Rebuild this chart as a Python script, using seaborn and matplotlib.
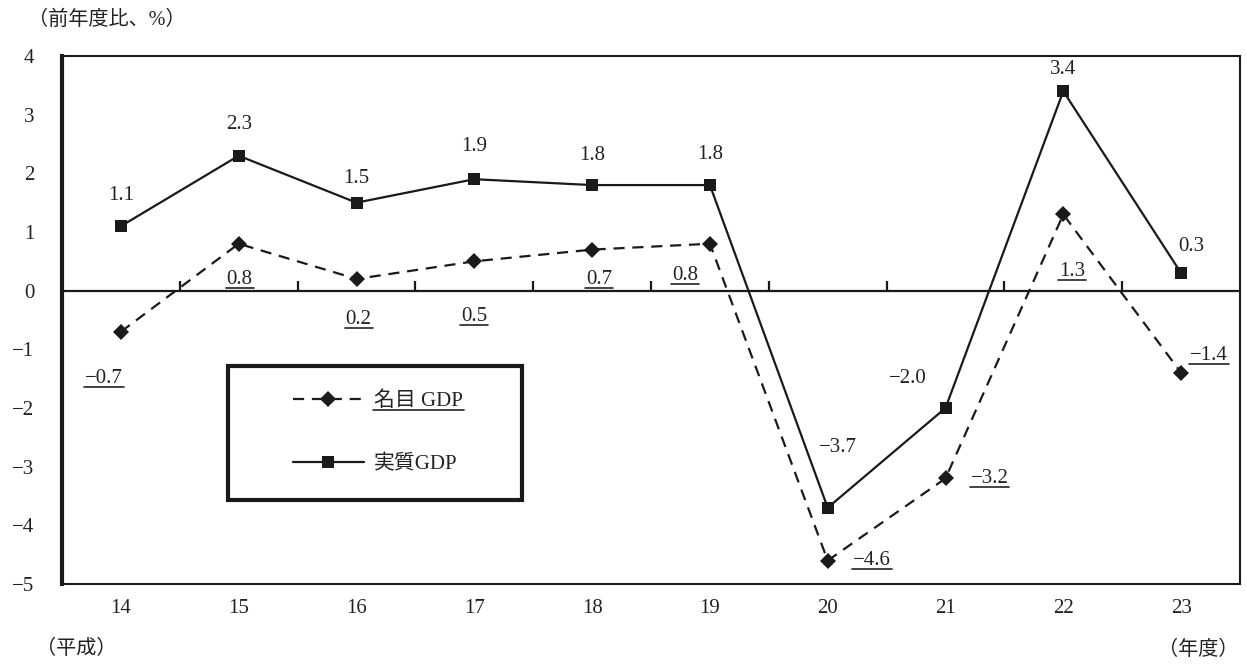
import matplotlib
matplotlib.use("Agg")
import matplotlib.pyplot as plt
from matplotlib.lines import Line2D
from matplotlib.patches import Rectangle
import seaborn as sns
import pandas as pd

# 年度（平成）
years = [14, 15, 16, 17, 18, 19, 20, 21, 22, 23]
# 前年度比（%）
nominal = [-0.7, 0.8, 0.2, 0.5, 0.7, 0.8, -4.6, -3.2, 1.3, -1.4]
real = [1.1, 2.3, 1.5, 1.9, 1.8, 1.8, -3.7, -2.0, 3.4, 0.3]
series_names = ["名目 GDP", "実質GDP"]
y_ticks = [4, 3, 2, 1, 0, -1, -2, -3, -4, -5]

# label offsets in pixels (dx, dy) relative to each marker
nominal_offsets = [(-17, -47), (1, -36), (2, -41), (0, -55), (7, -30),
                   (-25, -32), (44, 0), (44, 0), (9, -57), (28, 17)]
real_offsets = [(0, 31), (0, 31), (0, 24), (0, 33), (0, 30),
                (0, 31), (10, 60), (-38, 29), (0, 22), (10, 27)]

sns.set_theme(style="white")
FONT = ["Liberation Serif", "Noto Sans CJK JP"]
plt.rcParams["font.family"] = FONT
plt.rcParams["axes.unicode_minus"] = True

INK = "#1a1a1a"
TXT = "#222222"
FS = 15

df = pd.DataFrame({
    "year": years * 2,
    "value": nominal + real,
    "series": [series_names[0]] * len(years) + [series_names[1]] * len(years),
})

fig = plt.figure(figsize=(12.47, 6.66), dpi=100)
ax = fig.add_axes([62 / 1247, 1 - 584 / 666, 1178 / 1247, 528 / 666])

sns.lineplot(
    data=df, x="year", y="value", hue="series", style="series",
    palette={series_names[0]: INK, series_names[1]: INK},
    markers={series_names[0]: "D", series_names[1]: "s"},
    dashes={series_names[0]: (5, 3.5), series_names[1]: ""},
    linewidth=1.6, markersize=9, markeredgewidth=0,
    legend=False, ax=ax, zorder=3,
)
for ln in ax.get_lines():
    if ln.get_marker() == "D":
        ln.set_markersize(8.5)

ax.set_xlim(years[0] - 0.5, years[-1] + 0.5)
ax.set_ylim(min(y_ticks), max(y_ticks))
ax.set_xlabel("")
ax.set_ylabel("")

# zero line with upward separators between years
ax.axhline(0, color=INK, lw=1.6, zorder=2)
ax.vlines([y + 0.5 for y in years[:-1]], 0, 0.17, color=INK, lw=1.6, zorder=2)

ax.set_xticks(years)
ax.set_xticklabels([str(y) for y in years], fontsize=FS)
ax.set_yticks(y_ticks)
ax.set_yticklabels([f"\u2212{abs(v)}" if v < 0 else str(v) for v in y_ticks], fontsize=FS)
ax.tick_params(axis="x", length=0, pad=11, colors=TXT)
ax.tick_params(axis="y", direction="in", length=8, width=2.5, pad=20, colors=INK,
               labelcolor=TXT)

for name, sp in ax.spines.items():
    sp.set_color(INK)
    sp.set_linewidth(1.5)
ax.spines["left"].set_linewidth(3)
ax.grid(False)


def fmt(v):
    return f"\u2212{abs(v):.1f}" if v < 0 else f"{v:.1f}"


underlined = []
for x, v, (dx, dy) in zip(years, real, real_offsets):
    ax.annotate(fmt(v), (x, v), xytext=(dx, dy), textcoords="offset pixels",
                ha="center", va="center", fontsize=FS, color=TXT)
for x, v, (dx, dy) in zip(years, nominal, nominal_offsets):
    t = ax.annotate(fmt(v), (x, v), xytext=(dx, dy), textcoords="offset pixels",
                    ha="center", va="center", fontsize=FS, color=TXT)
    underlined.append(t)

# legend box
ax.add_patch(Rectangle((166 / 1178, 84 / 528), 294 / 1178, 134 / 528,
                       transform=ax.transAxes, fill=True, facecolor="white",
                       edgecolor=INK, lw=3, zorder=4))
handles = [
    Line2D([], [], color=INK, lw=1.6, dashes=(5, 3.5), marker="D",
           markersize=8.5, markeredgewidth=0),
    Line2D([], [], color=INK, lw=1.6, marker="s", markersize=9,
           markeredgewidth=0),
]
leg = ax.legend(handles, series_names, loc="center",
                bbox_to_anchor=(316 / 1178, 151 / 528), frameon=False,
                handlelength=3.4, handletextpad=0.5,
                labelspacing=2.1, prop={"family": FONT, "size": FS})
leg.set_zorder(5)
for t in leg.get_texts():
    t.set_color(TXT)
underlined.append(leg.get_texts()[0])

# figure annotations
fig.text(28 / 1247, 1 - 20 / 666, "（前年度比、%）", fontsize=14.5, va="center", ha="left",
         color=TXT)
fig.text(36 / 1247, 1 - 649 / 666, "（平成）", fontsize=14.5, va="center", ha="left",
         color=TXT)
fig.text(1239 / 1247, 1 - 650 / 666, "（年度）", fontsize=14.5, va="center", ha="right",
         color=TXT)

# underline selected labels
fig.canvas.draw()
renderer = fig.canvas.get_renderer()
inv = fig.transFigure.inverted()
for t in underlined:
    bb = t.get_window_extent(renderer)
    (x0, y0) = inv.transform((bb.x0 - 1, bb.y0 + 1))
    (x1, _) = inv.transform((bb.x1 + 1, bb.y0 + 1))
    fig.add_artist(Line2D([x0, x1], [y0, y0], transform=fig.transFigure,
                          color=TXT, lw=1.2, zorder=6))

fig.savefig("out.png", dpi=100)
